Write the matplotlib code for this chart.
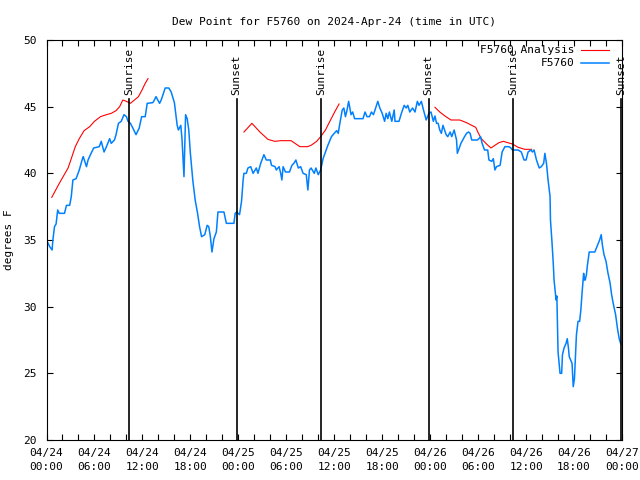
import numpy as np
import matplotlib
matplotlib.use("Agg")
import matplotlib.pyplot as plt

plt.rcParams['font.family'] = ['DejaVu Sans Mono']
plt.rcParams['font.size'] = 8

# hours since 2024-04-24 00:00 UTC
obs_hours = [0.0, 0.4, 0.7, 0.8, 1.0, 1.2, 1.4, 1.6, 2.25, 2.5, 2.9, 3.1, 3.3, 3.7, 4.1, 4.5, 4.6,
             5.0, 5.2, 5.5, 5.9, 6.6, 6.85, 7.2, 7.5, 7.9, 8.1, 8.5, 8.7, 9.0, 9.35, 9.7, 10.0,
             10.2, 10.5, 10.8, 11.2, 11.6, 11.9, 12.35, 12.6, 13.3, 13.5, 13.7, 14.15, 14.35,
             14.85, 15.3, 15.6, 16.0, 16.35, 16.5, 16.8, 16.95, 17.2, 17.4, 17.6, 17.8, 18.0,
             18.3, 18.6, 18.9, 19.15, 19.4, 19.8, 20.1, 20.3, 20.5, 20.7, 20.95, 21.25, 21.45,
             21.9, 22.2, 22.5, 23.45, 23.6, 23.8, 24.15, 24.4, 24.6, 24.7, 25.0, 25.2, 25.55,
             25.85, 26.25, 26.45, 26.8, 27.2, 27.5, 28.0, 28.15, 28.6, 28.75, 29.1, 29.3, 29.45,
             29.6, 29.9, 30.4, 30.7, 30.95, 31.2, 31.5, 31.8, 32.1, 32.5, 32.7, 32.9, 33.1, 33.5,
             33.7, 34.0, 34.3, 34.6, 34.9, 35.2, 35.65, 36.0, 36.3, 36.5, 36.7, 37.0, 37.2, 37.4,
             37.6, 37.8, 38.1, 38.3, 38.55, 39.6, 39.85, 40.1, 40.4, 40.65, 40.9, 41.1, 41.45,
             41.7, 42.0, 42.3, 42.5, 42.7, 42.9, 43.2, 43.5, 43.6, 44.1, 44.4, 44.75, 45.0, 45.2,
             45.45, 45.8, 46.1, 46.4, 46.6, 46.9, 47.1, 47.5, 47.85, 48.1, 48.4, 48.6, 48.8, 49.0,
             49.2, 49.4, 49.6, 50.0, 50.2, 50.5, 50.7, 51.0, 51.3, 51.4, 51.85, 52.3, 52.55, 52.8,
             53.0, 53.2, 53.9, 54.1, 54.3, 54.5, 54.8, 55.2, 55.35, 55.7, 55.9, 56.1, 56.3, 56.75,
             57.0, 57.35, 57.6, 57.85, 58.1, 58.3, 59.0, 59.4, 59.75, 60.0, 60.25, 60.6, 60.8,
             61.0, 61.3, 61.65, 61.9, 62.2, 62.35, 62.55, 62.75, 63.0, 63.05, 63.25, 63.4, 63.5,
             63.75, 63.85, 63.9, 64.0, 64.25, 64.45, 64.55, 64.75, 65.0, 65.15, 65.3, 65.4,
             65.75, 65.9, 66.05, 66.2, 66.3, 66.5, 66.7, 66.85, 67.0, 67.2, 67.3, 67.4, 67.55,
             67.65, 67.9, 68.6, 68.8, 69.0, 69.2, 69.4, 69.55, 69.75, 70.0, 70.25, 70.5, 70.7,
             70.9, 71.2, 71.45, 71.65, 71.85]
obs_dewpt = [35.0, 34.5, 34.25, 35.0, 36.0, 36.2, 37.25, 37.0, 37.0, 37.6, 37.6, 38.25, 39.5, 39.6,
             40.25, 41.1, 41.25, 40.5, 41.0, 41.4, 41.9, 42.0, 42.4, 41.6, 42.0, 42.6, 42.25, 42.5,
             42.9, 43.75, 43.9, 44.4, 44.25, 43.9, 43.75, 43.4, 42.9, 43.4, 44.25, 44.25, 45.25,
             45.3, 45.5, 45.75, 45.25, 45.5, 46.4, 46.4, 46.1, 45.3, 43.6, 43.25, 43.6, 42.6,
             39.75, 44.4, 44.1, 43.25, 41.5, 39.5, 38.0, 37.0, 36.0, 35.25, 35.4, 36.1, 36.0,
             35.25, 34.1, 35.1, 35.6, 37.1, 37.1, 37.1, 36.25, 36.25, 37.0, 37.1, 36.9, 37.9,
             39.5, 40.0, 40.0, 40.4, 40.5, 40.0, 40.4, 40.0, 40.75, 41.4, 41.0, 41.0, 40.6, 40.5,
             40.25, 40.5, 40.0, 39.5, 40.5, 40.1, 40.1, 40.6, 40.75, 41.0, 40.4, 40.5, 40.0, 39.9,
             38.75, 40.25, 40.4, 40.0, 40.4, 39.9, 40.25, 41.1, 41.6, 42.1, 42.75, 43.0, 43.2,
             43.0, 43.75, 44.75, 44.9, 44.25, 44.75, 45.4, 44.4, 44.6, 44.1, 44.1, 44.6, 44.25,
             44.25, 44.6, 44.4, 44.75, 45.4, 44.9, 44.5, 43.9, 44.5, 44.1, 44.6, 43.9, 44.75,
             43.9, 43.9, 44.5, 45.1, 44.9, 45.1, 44.6, 44.9, 44.6, 45.4, 45.1, 45.4, 44.9, 44.0,
             44.5, 44.6, 43.9, 44.3, 43.75, 43.75, 43.25, 43.0, 43.6, 42.9, 42.75, 43.1, 42.75,
             43.25, 42.5, 41.5, 42.25, 42.75, 43.0, 43.1, 43.0, 42.5, 42.5, 42.6, 42.75, 42.25,
             41.75, 41.75, 41.0, 40.9, 41.1, 40.25, 40.5, 40.6, 41.6, 42.0, 42.0, 42.0, 41.9,
             41.75, 41.75, 41.6, 41.0, 41.0, 41.6, 41.75, 41.6, 41.75, 41.0, 40.4, 40.5, 40.75,
             41.5, 40.75, 39.5, 38.25, 36.5, 34.75, 33.25, 32.0, 30.5, 30.8, 29.4, 26.6, 25.0,
             25.0, 26.4, 26.9, 27.25, 27.6, 26.9, 26.25, 25.75, 24.0, 24.6, 26.5, 27.9, 28.9,
             28.9, 29.75, 31.0, 32.5, 32.0, 32.0, 32.4, 33.0, 34.1, 34.1, 34.4, 34.7, 35.0, 35.4,
             34.6, 33.9, 33.4, 32.5, 31.8, 30.9, 30.25, 29.4, 28.3, 27.6, 27.2]

# analysis (NaN = gap)
ana_hours = [0.66, 1.6, 2.7, 3.1, 3.6, 4.1, 4.7, 5.4, 6.0, 6.75, 7.5, 8.1, 8.7, 9.15, 9.55, 10.0,
             10.5, 11.0, 11.5, 11.95, 12.35, 12.7, np.nan,
             24.7, 25.7, 26.7, 27.7, 28.55, 29.3, 30.6, 31.7, 32.65, 33.1, 33.8, 34.3, 34.9, 35.45,
             36.05, 36.6, np.nan,
             48.6, 49.2, 49.85, 50.6, 51.7, 52.55, 53.2, 53.7, 54.0, 54.4, 55.05, 55.6, 56.1, 56.6,
             57.15, 57.7, 58.3, 59.0, 59.85, 60.7]
ana_dewpt = [38.2, 39.25, 40.4, 41.1, 42.0, 42.6, 43.2, 43.5, 43.9, 44.25, 44.4, 44.5, 44.7, 45.0,
             45.5, 45.4, 45.25, 45.5, 45.75, 46.25, 46.75, 47.1, np.nan,
             43.1, 43.75, 43.1, 42.55, 42.4, 42.45, 42.45, 42.0, 42.0, 42.1, 42.4, 42.75, 43.25,
             43.9, 44.6, 45.2, np.nan,
             44.95, 44.6, 44.3, 44.0, 44.0, 43.8, 43.6, 43.45, 43.05, 42.6, 42.2, 41.9, 42.1, 42.3,
             42.4, 42.3, 42.2, 41.95, 41.8, 41.8]

sun_hours = [10.37, 23.8, 34.4, 47.8, 58.4, 71.9]
sun_names = ["Sunrise", "Sunset", "Sunrise", "Sunset", "Sunrise", "Sunset"]

tick_hours = list(range(0, 73, 6))
tick_labels = ["04/24\n00:00", "04/24\n06:00", "04/24\n12:00", "04/24\n18:00",
               "04/25\n00:00", "04/25\n06:00", "04/25\n12:00", "04/25\n18:00",
               "04/26\n00:00", "04/26\n06:00", "04/26\n12:00", "04/26\n18:00",
               "04/27\n00:00"]

fig = plt.figure(figsize=(6.4, 4.8), dpi=100)
ax = fig.add_axes([46.5 / 640, 40 / 480, 575.5 / 640, 400 / 480])

ax.plot(ana_hours, ana_dewpt, color='#ff0000', linewidth=0.8)
ax.plot(obs_hours, obs_dewpt, color='#0080ff', linewidth=1.1)

for h, name in zip(sun_hours, sun_names):
    ax.axvline(h, ymin=0, ymax=0.853, color='black', linewidth=1.2)
    ax.text(h, 0.862, name, transform=ax.get_xaxis_transform(), rotation=90,
            ha='center', va='bottom', fontsize=8)

# legend, gnuplot style
ax.text(0.9166, 0.975, "F5760 Analysis", transform=ax.transAxes, ha='right', va='center')
ax.plot([0.929, 0.977], [0.975, 0.975], color='#ff0000', linewidth=0.8,
        transform=ax.transAxes, clip_on=False)
ax.text(0.9166, 0.943, "F5760", transform=ax.transAxes, ha='right', va='center')
ax.plot([0.929, 0.977], [0.943, 0.943], color='#0080ff', linewidth=1.1,
        transform=ax.transAxes, clip_on=False)

ax.set_xlim(0, 72)
ax.set_ylim(20, 50)
ax.set_xticks(tick_hours)
ax.set_xticklabels(tick_labels, linespacing=1.45)
ax.set_xticks(range(0, 73, 2), minor=True)
ax.set_yticks(range(20, 51, 5))
ax.tick_params(axis='both', which='both', direction='in', top=True, right=True,
               length=4, width=0.8, labelsize=8)
ax.tick_params(axis='x', pad=6)
ax.tick_params(axis='y', pad=7)
for s in ax.spines.values():
    s.set_linewidth(0.8)

ax.set_title("Dew Point for F5760 on 2024-Apr-24 (time in UTC)", fontsize=8, pad=11)
ax.set_ylabel("degrees F", labelpad=7)

fig.savefig("out.png", dpi=100)
